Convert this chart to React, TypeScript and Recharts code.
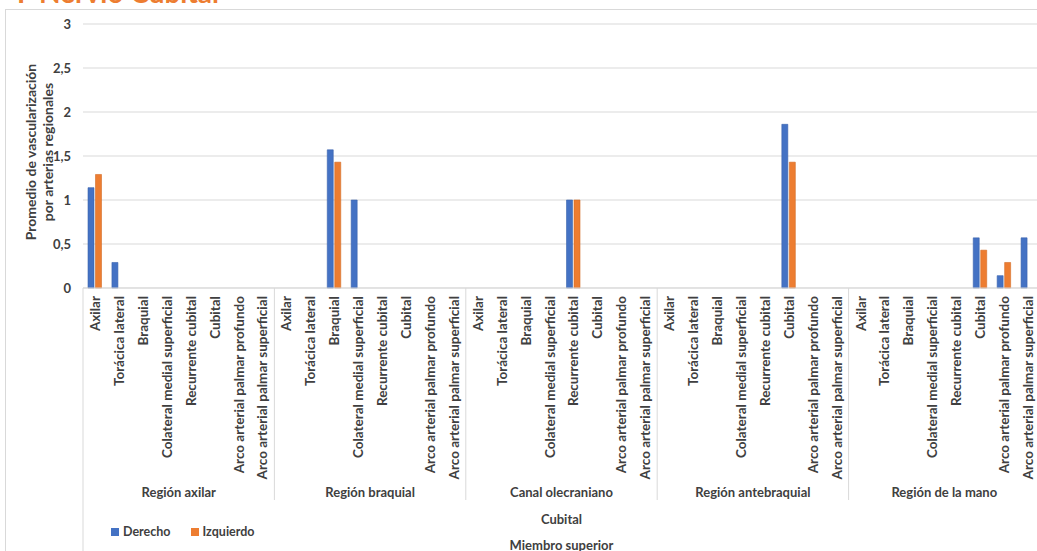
import { BarChart, Bar, XAxis, YAxis, CartesianGrid, Legend } from 'recharts'

const regions = ['Región axilar', 'Región braquial', 'Canal olecraniano', 'Región antebraquial', 'Región de la mano']
const arteries = [
  'Axilar',
  'Torácica lateral',
  'Braquial',
  'Colateral medial superficial',
  'Recurrente cubital',
  'Cubital',
  'Arco arterial palmar profundo',
  'Arco arterial palmar superficial',
]
// one row per region, one value per artery
const derecho = [
  [1.14, 0.29, 0, 0, 0, 0, 0, 0],
  [0, 0, 1.57, 1, 0, 0, 0, 0],
  [0, 0, 0, 0, 1, 0, 0, 0],
  [0, 0, 0, 0, 0, 1.86, 0, 0],
  [0, 0, 0, 0, 0, 0.57, 0.14, 0.57],
]
const izquierdo = [
  [1.29, 0, 0, 0, 0, 0, 0, 0],
  [0, 0, 1.43, 0, 0, 0, 0, 0],
  [0, 0, 0, 0, 1, 0, 0, 0],
  [0, 0, 0, 0, 0, 1.43, 0, 0],
  [0, 0, 0, 0, 0, 0.43, 0.29, 0],
]
const yTicks = [0, 0.5, 1, 1.5, 2, 2.5, 3]
const groupLabel = 'Cubital'
const outerLabel = 'Miembro superior'

const BLUE = '#4472C4'
const ORANGE = '#ED7D31'
const TEXT = '#404040'
const GRID = '#d9d9d9'
const FONT = 'Lato, "Open Sans", sans-serif'

const CHART_W = 1040
const CHART_H = 560
const Y_AXIS_W = 83
const PLOT_W = CHART_W - Y_AXIS_W

const data = regions.flatMap((region, r) =>
  arteries.map((artery, a) => ({
    key: `${region}|${artery}`,
    artery,
    region,
    Derecho: derecho[r][a],
    Izquierdo: izquierdo[r][a],
  }))
)

const n = data.length
const per = arteries.length
const half = PLOT_W / n / 2

const labelStyle = { fontWeight: 700, fontFamily: FONT, fill: TEXT }

function CategoryTick(props: any) {
  const { x, y, index } = props
  const axisY = y - 8
  const row = data[index]
  const pos = index % per
  return (
    <g>
      <text
        x={x}
        y={y}
        transform={`rotate(-90, ${x}, ${y})`}
        textAnchor="end"
        dominantBaseline="central"
        fontSize={13.5}
        {...labelStyle}
      >
        {row.artery}
      </text>
      {pos === 0 && (
        <line x1={x - half} x2={x - half} y1={axisY} y2={index === 0 ? CHART_H : 500} stroke={GRID} />
      )}
      {pos === per / 2 - 1 && (
        <text x={x + half} y={492} textAnchor="middle" dominantBaseline="central" fontSize={13} {...labelStyle}>
          {row.region}
        </text>
      )}
      {index === n / 2 - 1 && (
        <g>
          <text x={x + half} y={519} textAnchor="middle" dominantBaseline="central" fontSize={13} {...labelStyle}>
            {groupLabel}
          </text>
          <text x={x + half} y={545} textAnchor="middle" dominantBaseline="central" fontSize={13} {...labelStyle}>
            {outerLabel}
          </text>
        </g>
      )}
    </g>
  )
}

function YTitle(props: any) {
  const vb = props.viewBox || { y: 24, height: 264 }
  const cy = vb.y + vb.height / 2 - 4
  return (
    <g>
      <text x={30} y={cy} transform={`rotate(-90, 30, ${cy})`} textAnchor="middle" dominantBaseline="central" fontSize={14} {...labelStyle}>
        Promedio de vascularización
      </text>
      <text x={47} y={cy} transform={`rotate(-90, 47, ${cy})`} textAnchor="middle" dominantBaseline="central" fontSize={14} {...labelStyle}>
        por arterias regionales
      </text>
    </g>
  )
}

function LegendContent() {
  const items = [
    { name: 'Derecho', color: BLUE },
    { name: 'Izquierdo', color: ORANGE },
  ]
  return (
    <div style={{ display: 'flex', gap: 20, fontFamily: FONT, fontSize: 12.5, fontWeight: 700, color: TEXT }}>
      {items.map(it => (
        <div key={it.name} style={{ display: 'flex', alignItems: 'center', gap: 4 }}>
          <span style={{ width: 8, height: 8, background: it.color, display: 'inline-block' }} />
          <span>{it.name}</span>
        </div>
      ))}
    </div>
  )
}

export default function App() {
  return (
    <div style={{ position: 'absolute', left: 0, top: 0, width: 1037, height: 551, overflow: 'hidden', background: '#fff' }}>
      <div style={{ position: 'absolute', left: 5, top: 9, width: 1100, height: 600, border: `1px solid ${GRID}` }} />
      <svg width={300} height={12} style={{ position: 'absolute', left: 0, top: 0 }}>
        <text x={17} y={3} fontSize={28} fontWeight={700} fontFamily={FONT} fill={ORANGE}>
          F Nervio Cubital
        </text>
      </svg>
      <BarChart
        width={CHART_W}
        height={CHART_H}
        data={data}
        margin={{ top: 24, right: 0, left: 0, bottom: 0 }}
        barGap={1.5}
        barSize={6}
      >
        <CartesianGrid vertical={false} stroke={GRID} />
        <XAxis
          dataKey="key"
          interval={0}
          height={272}
          tickLine={false}
          axisLine={{ stroke: GRID }}
          tick={<CategoryTick />}
        />
        <YAxis
          width={Y_AXIS_W}
          domain={[0, 3]}
          ticks={yTicks}
          tickLine={false}
          axisLine={false}
          tickMargin={6}
          tickFormatter={(v: number) => String(v).replace('.', ',')}
          tick={{ fontSize: 13, fontWeight: 700, fontFamily: FONT, fill: TEXT }}
          label={{ content: <YTitle /> }}
        />
        <Legend
          layout="horizontal"
          verticalAlign="middle"
          align="center"
          wrapperStyle={{ left: 111, top: 524, width: 'auto' }}
          content={<LegendContent />}
        />
        <Bar dataKey="Derecho" fill={BLUE} stroke="#3A63AD" strokeWidth={0.6} isAnimationActive={false} />
        <Bar dataKey="Izquierdo" fill={ORANGE} stroke="#D46B26" strokeWidth={0.6} isAnimationActive={false} />
      </BarChart>
    </div>
  )
}
